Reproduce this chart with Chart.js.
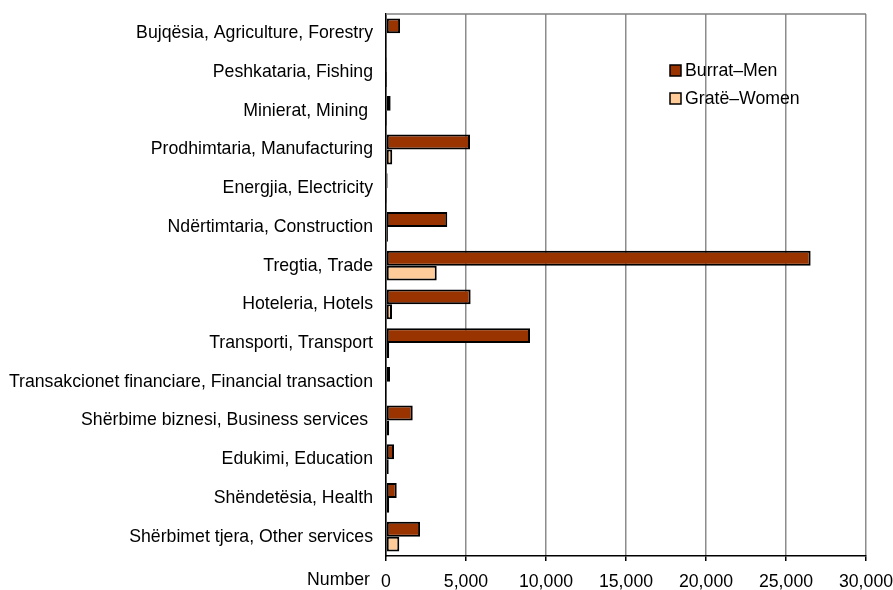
<!DOCTYPE html>
<html>
<head>
<meta charset="utf-8">
<script src="https://cdn.jsdelivr.net/npm/chart.js@4.4.1/dist/chart.umd.min.js"></script>
<style>
  html, body { margin:0; padding:0; background:#fff; }
  #wrap { width:893px; height:590px; position:relative; }
</style>
</head>
<body>
<div id="wrap"><canvas id="c"></canvas></div>
<script>
/* ====== データ ====== */
const categories = [
  'Bujqësia, Agriculture, Forestry',
  'Peshkataria, Fishing',
  'Minierat, Mining ',
  'Prodhimtaria, Manufacturing',
  'Energjia, Electricity',
  'Ndërtimtaria, Construction',
  'Tregtia, Trade',
  'Hoteleria, Hotels',
  'Transporti, Transport',
  'Transakcionet financiare, Financial transaction',
  'Shërbime biznesi, Business services ',
  'Edukimi, Education',
  'Shëndetësia, Health',
  'Shërbimet tjera, Other services'
];
const men   = [880, 20, 290, 5250, 100, 3830, 26540, 5290, 9000, 250, 1670, 500, 670, 2130];
const women = [60, 5, 10, 390, 20, 120, 3170, 375, 200, 60, 200, 170, 200, 830];
const seriesNames = ['Burrat\u2013Men', 'Gratë\u2013Women'];
const xTicks = [0, 5000, 10000, 15000, 20000, 25000, 30000];

const FONT = 'Liberation Sans, Arial, sans-serif';
const FSIZE = 17.7;
const MEN_COLOR = '#993300', WOMEN_COLOR = '#FFCC99';

/* ====== 凡例（プロット内）・Number・上辺 ====== */
const innerLegend = {
  id: 'innerLegend',
  afterDraw(chart) {
    const ctx = chart.ctx;
    const items = chart.data.datasets;
    ctx.save();
    ctx.font = FSIZE + 'px ' + FONT;
    ctx.textBaseline = 'middle';
    items.forEach((ds, i) => {
      const x = 670, y = 71 + i * 28;
      ctx.fillStyle = ds.backgroundColor;
      ctx.fillRect(x, y - 6, 11, 11);
      ctx.strokeStyle = '#000'; ctx.lineWidth = 1.5;
      ctx.strokeRect(x, y - 6, 11, 11);
      ctx.fillStyle = '#000';
      ctx.fillText(ds.label, x + 15, y);
    });
    ctx.textAlign = 'right';
    ctx.fillText('Number', 370, 580);
    const a = chart.chartArea;
    ctx.strokeStyle = '#808080'; ctx.lineWidth = 1.5;
    ctx.beginPath(); ctx.moveTo(a.left, a.top); ctx.lineTo(a.right, a.top); ctx.stroke();
    ctx.restore();
  }
};

// 軸ラベルのはみ出し分の自動余白を消す
const noPad = s => { s.paddingTop = 0; s.paddingBottom = 0; s.paddingLeft = 0; s.paddingRight = 0; };

new Chart(document.getElementById('c'), {
  type: 'bar',
  data: {
    labels: categories,
    datasets: [
      { label: seriesNames[0], data: men,   backgroundColor: MEN_COLOR,   borderColor: '#000', borderWidth: 2, borderSkipped: false },
      { label: seriesNames[1], data: women, backgroundColor: WOMEN_COLOR, borderColor: '#000', borderWidth: 2, borderSkipped: false }
    ]
  },
  options: {
    indexAxis: 'y',
    responsive: true,
    maintainAspectRatio: false,
    animation: false,
    datasets: { bar: { barPercentage: 1, categoryPercentage: 0.77 } },
    layout: { padding: { top: 14, right: 27, left: 0, bottom: 0 } },
    scales: {
      x: {
        min: 0, max: 30000,
        afterBuildTicks: s => { s.ticks = xTicks.map(v => ({ value: v })); },
        afterFit: s => { s.height = 34; noPad(s); },
        grid: { color: '#8c8c8c', lineWidth: 1.5, tickColor: '#000', tickLength: 5, tickWidth: 1.5 },
        border: { color: '#000', width: 1.5 },
        ticks: {
          color: '#000', padding: 10, maxRotation: 0,
          font: { family: FONT, size: FSIZE },
          callback: v => Number(v).toLocaleString('en-US')
        }
      },
      y: {
        afterFit: s => { s.width = 386; noPad(s); },
        grid: { display: true, drawOnChartArea: false, drawTicks: false },
        border: { color: '#000', width: 1.5 },
        ticks: { color: '#000', padding: 13, autoSkip: false, font: { family: FONT, size: FSIZE } }
      }
    },
    plugins: { legend: { display: false }, tooltip: { enabled: false } }
  },
  plugins: [innerLegend]
});
</script>
</body>
</html>
